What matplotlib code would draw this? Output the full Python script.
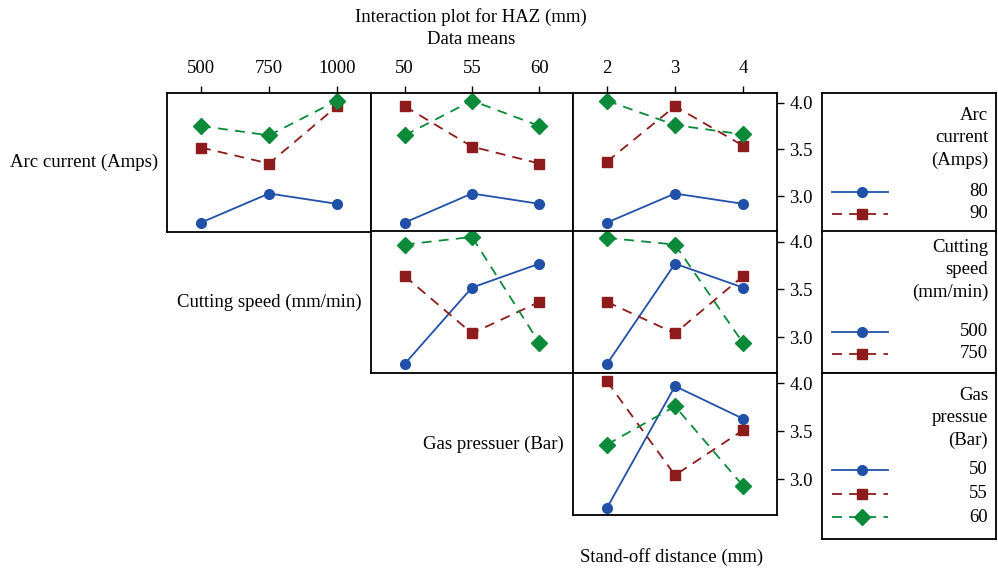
import matplotlib
matplotlib.use("Agg")
import matplotlib.pyplot as plt

plt.rcParams['font.family'] = ['Liberation Serif', 'DejaVu Serif']

# factor levels
speed_levels = [500, 750, 1000]
gas_levels = [50, 55, 60]
sod_levels = [2, 3, 4]

# HAZ means, traces = arc current 80 / 90 / 100
arc_vs_speed = [[2.72, 3.03, 2.92], [3.52, 3.35, 3.96], [3.75, 3.65, 4.02]]
arc_vs_gas = [[2.72, 3.03, 2.92], [3.96, 3.53, 3.35], [3.65, 4.02, 3.75]]
arc_vs_sod = [[2.72, 3.03, 2.92], [3.37, 3.96, 3.54], [4.02, 3.76, 3.66]]
# traces = cutting speed 500 / 750 / 1000
speed_vs_gas = [[2.72, 3.52, 3.77], [3.64, 3.04, 3.37], [3.97, 4.05, 2.94]]
speed_vs_sod = [[2.72, 3.77, 3.52], [3.37, 3.04, 3.64], [4.04, 3.97, 2.94]]
# traces = gas pressure 50 / 55 / 60
gas_vs_sod = [[2.70, 3.97, 3.63], [4.02, 3.04, 3.51], [3.36, 3.76, 2.93]]

row_labels = ["Arc current (Amps)", "Cutting speed (mm/min)", "Gas pressuer (Bar)"]
legend_titles = ["Arc\ncurrent\n(Amps)", "Cutting\nspeed\n(mm/min)", "Gas\npressue\n(Bar)"]
legend_entries = [["80", "90"], ["500", "750"], ["50", "55", "60"]]
yticks = [3.0, 3.5, 4.0]

colors = ['#2150a8', '#8e1b1b', '#0b8a3a']
markers = ['o', 's', 'D']
msizes = [7, 7.5, 8]
dashes = [None, (5.5, 4), (5.5, 4)]
FS = 13.5

W, H = 998, 569
fig = plt.figure(figsize=(W / 100, H / 100), dpi=100)


def rect(l, t, r, b):
    return [l / W, 1 - b / H, (r - l) / W, (b - t) / H]


cols = [(167, 371), (371, 573), (573, 777)]
rows = [(92.5, 231.5), (231.5, 373), (373, 515)]

panels = {
    (0, 0): (speed_levels, arc_vs_speed),
    (0, 1): (gas_levels, arc_vs_gas),
    (0, 2): (sod_levels, arc_vs_sod),
    (1, 1): (gas_levels, speed_vs_gas),
    (1, 2): (sod_levels, speed_vs_sod),
    (2, 2): (sod_levels, gas_vs_sod),
}


def draw_trace(ax, xs, ys, k):
    ln, = ax.plot(xs, ys, color=colors[k], marker=markers[k], markersize=msizes[k],
                  lw=1.3, ls='-' if dashes[k] is None else '--')
    if dashes[k] is not None:
        ln.set_dashes(dashes[k])
    return ln


for (i, j), (levels, traces) in panels.items():
    l, r = cols[j]
    t, b = rows[i]
    ax = fig.add_axes(rect(l, t, r, b))
    xs = range(len(levels))
    for k, ys in enumerate(traces):
        draw_trace(ax, xs, ys, k)
    ax.set_xlim(-0.5, 2.5)
    ax.set_ylim(2.625, 4.107)
    for s in ax.spines.values():
        s.set_linewidth(1.3)
    ax.tick_params(direction='out', length=5, width=1, labelsize=FS)
    if i == 0:
        ax.xaxis.tick_top()
        ax.set_xticks(list(xs))
        ax.set_xticklabels([str(v) for v in levels])
        ax.tick_params(axis='x', pad=6)
    else:
        ax.set_xticks([])
    if j == 2:
        ax.yaxis.tick_right()
        ax.set_yticks(yticks)
        ax.set_yticklabels([f"{v:.1f}" for v in yticks])
        ax.tick_params(axis='y', pad=4)
    else:
        ax.set_yticks([])
    if i == j:
        fig.text((l - 9) / W, 1 - ((t + b) / 2) / H, row_labels[i],
                 ha='right', va='center', fontsize=FS)

# legends
leg_boxes = [(92.5, 231.5), (231.5, 373), (373, 539)]
title_y = [116, 248, 396]
entry_y = [[192, 214], [332, 354], [470, 494, 517]]
for n, (t, b) in enumerate(leg_boxes):
    lax = fig.add_axes(rect(822, t, 996, b))
    lax.set_xlim(822, 996)
    lax.set_ylim(b, t)
    lax.set_xticks([])
    lax.set_yticks([])
    for s in lax.spines.values():
        s.set_linewidth(1.3)
    for m, line in enumerate(legend_titles[n].split("\n")):
        lax.text(988, title_y[n] + 22 * m, line, ha='right', va='center', fontsize=FS)
    for k, lab in enumerate(legend_entries[n]):
        y = entry_y[n][k]
        ln, = lax.plot([832, 888], [y, y], color=colors[k], lw=1.3,
                       ls='-' if dashes[k] is None else '--')
        if dashes[k] is not None:
            ln.set_dashes(dashes[k])
        lax.plot([862], [y], color=colors[k], marker=markers[k], markersize=msizes[k], ls='none')
        lax.text(988, y, lab, ha='right', va='center', fontsize=FS)

fig.text(471 / W, 1 - 17 / H, "Interaction plot for HAZ (mm)", ha='center', va='center', fontsize=FS)
fig.text(471 / W, 1 - 40 / H, "Data means", ha='center', va='center', fontsize=FS)
fig.text(672 / W, 1 - 557 / H, "Stand-off distance (mm)", ha='center', va='center', fontsize=FS)

fig.savefig("out.png", dpi=100)
